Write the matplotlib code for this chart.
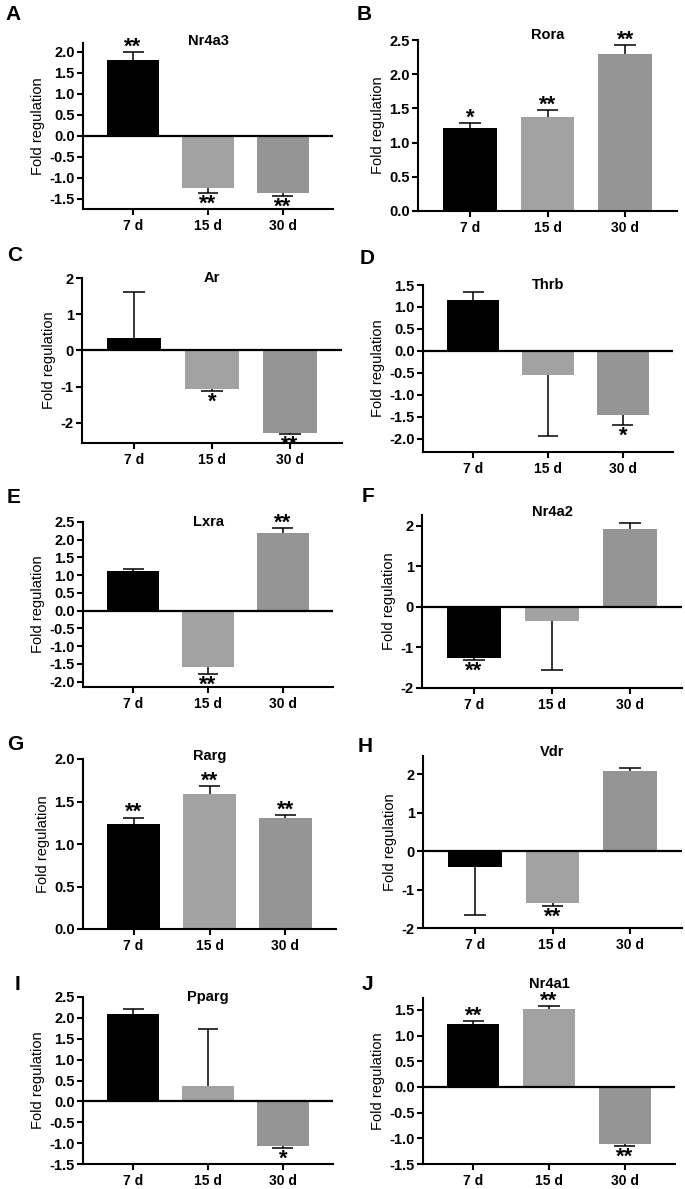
import numpy as np
import matplotlib
matplotlib.use('Agg')
import matplotlib.pyplot as plt

plt.rcParams['font.family'] = ['Liberation Sans', 'DejaVu Sans']
plt.rcParams['font.weight'] = 'bold'

# data
days = ['7 d', '15 d', '30 d']
genes = ['Nr4a3', 'Rora', 'Ar', 'Thrb', 'Lxra', 'Nr4a2', 'Rarg', 'Vdr', 'Pparg', 'Nr4a1']
letters = ['A', 'B', 'C', 'D', 'E', 'F', 'G', 'H', 'I', 'J']
means = [[1.80, -1.25, -1.35],
         [1.22, 1.37, 2.30],
         [0.33, -1.07, -2.28],
         [1.15, -0.55, -1.45],
         [1.13, -1.60, 2.18],
         [-1.25, -0.35, 1.93],
         [1.24, 1.59, 1.31],
         [-0.42, -1.35, 2.07],
         [2.10, 0.38, -1.08],
         [1.22, 1.52, -1.12]]
sems = [[0.20, 0.10, 0.07],
        [0.06, 0.11, 0.12],
        [1.27, 0.05, 0.03],
        [0.20, 1.38, 0.23],
        [0.05, 0.18, 0.15],
        [0.05, 1.20, 0.14],
        [0.07, 0.09, 0.03],
        [1.25, 0.08, 0.08],
        [0.12, 1.35, 0.04],
        [0.06, 0.05, 0.03]]
stars = [['**', '**', '**'],
         ['*', '**', '**'],
         ['', '*', '**'],
         ['', '', '*'],
         ['', '**', '**'],
         ['**', '', ''],
         ['**', '**', '**'],
         ['', '**', ''],
         ['', '', '*'],
         ['**', '**', '**']]
ylims = [(-1.74, 2.21), (0, 2.5), (-2.56, 2), (-2.3, 1.5), (-2.15, 2.5),
         (-2, 2.27), (0, 2.0), (-2, 2.47), (-1.5, 2.5), (-1.5, 1.73)]
yticks = [[-1.5, -1.0, -0.5, 0.0, 0.5, 1.0, 1.5, 2.0],
          [0.0, 0.5, 1.0, 1.5, 2.0, 2.5],
          [-2, -1, 0, 1, 2],
          [-2.0, -1.5, -1.0, -0.5, 0.0, 0.5, 1.0, 1.5],
          [-2.0, -1.5, -1.0, -0.5, 0.0, 0.5, 1.0, 1.5, 2.0, 2.5],
          [-2, -1, 0, 1, 2],
          [0.0, 0.5, 1.0, 1.5, 2.0],
          [-2, -1, 0, 1, 2],
          [-1.5, -1.0, -0.5, 0.0, 0.5, 1.0, 1.5, 2.0, 2.5],
          [-1.5, -1.0, -0.5, 0.0, 0.5, 1.0, 1.5]]
integer_ticks = [False, False, True, False, False, True, False, True, False, False]

# layout in pixels: axes box (left, top, right, bottom), title lift, letter pos
W, H = 685, 1189
boxes = [(83, 43, 333, 209), (418, 40, 677, 211),
         (82, 278, 342, 443), (423, 285, 673, 452),
         (83, 522, 333, 687), (422, 515, 682, 688),
         (83, 759, 336, 929), (423, 756, 682, 928),
         (83, 997, 333, 1164), (423, 998, 675, 1164)]
title_lift = [2, 5, 0, 0, 0, 3, 3, 4, 0, 14]
letter_pos = [(5, 5), (357, 5), (7, 246), (360, 249), (7, 488),
              (362, 487), (7, 735), (358, 737), (15, 975), (362, 975)]
colors = ['#000000', '#a2a2a2', '#959595']

fig = plt.figure(figsize=(W / 100, H / 100), dpi=100)

for i, gene in enumerate(genes):
    l, t, r, b = boxes[i]
    ax = fig.add_axes([l / W, 1 - b / H, (r - l) / W, (b - t) / H])
    x = np.arange(len(days))
    m = np.array(means[i])
    e = np.array(sems[i])
    ends = m + np.sign(m) * e

    ax.bar(x, m, width=0.69, color=colors, zorder=2)
    ax.vlines(x, m, ends, color='black', lw=1.1, zorder=3)
    ax.hlines(ends, x - 0.14, x + 0.14, color='black', lw=1.1, zorder=3)
    if ylims[i][0] < 0:
        ax.axhline(0, color='black', lw=1.6, zorder=4)

    # significance marks just beyond the error caps
    for xi, end, s in zip(x, ends, stars[i]):
        if not s:
            continue
        if end > 0:
            ax.annotate(s, (xi, end), xytext=(0, -0.4), textcoords='offset points',
                        ha='center', va='baseline', fontsize=16)
        else:
            ax.annotate(s, (xi, end), xytext=(0, -0.5), textcoords='offset points',
                        ha='center', va='top', fontsize=16)

    ax.set_xlim(-0.667, 2.667)
    ax.set_ylim(*ylims[i])
    ax.set_xticks(x)
    ax.set_xticklabels(days, fontsize=10)
    ax.set_yticks(yticks[i])
    fmt = '%d' if integer_ticks[i] else '%.1f'
    ax.set_yticklabels([fmt % v for v in yticks[i]], fontsize=10.5)
    ax.set_ylabel('Fold regulation', fontsize=10.5, labelpad=3)

    for side in ['top', 'right']:
        ax.spines[side].set_visible(False)
    for side in ['left', 'bottom']:
        ax.spines[side].set_linewidth(1.5)
    ax.tick_params(direction='out', length=4, width=1.5, pad=2)
    ax.tick_params(axis='x', pad=3)

    ax.annotate(gene, xy=(1, 1), xycoords=('data', 'axes fraction'),
                xytext=(0, title_lift[i] * 0.72), textcoords='offset points',
                ha='center', va='center', fontsize=10.5)

    lx, ly = letter_pos[i]
    fig.text(lx / W, 1 - ly / H, letters[i], fontsize=15, ha='left', va='top')

fig.savefig('out.png', dpi=100)
